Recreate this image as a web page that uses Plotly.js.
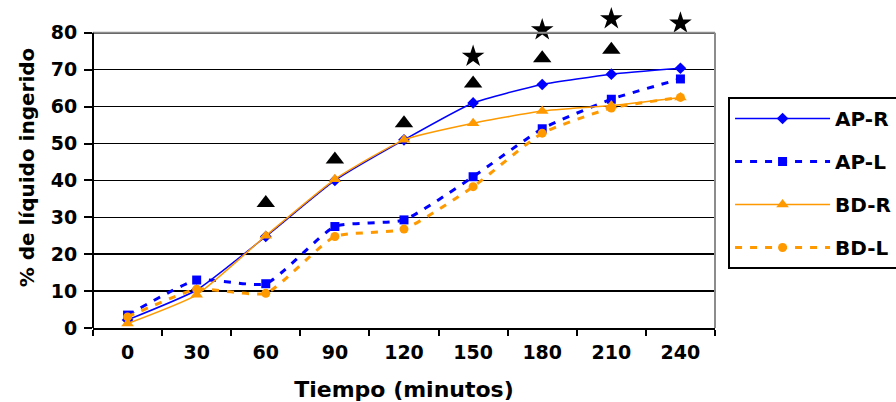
<!DOCTYPE html>
<html>
<head>
<meta charset="utf-8">
<script src="https://cdn.plot.ly/plotly-3.0.1.min.js"></script>
<style>html,body{margin:0;padding:0;background:#fff;}#chart{width:896px;height:402px;}</style>
</head>
<body>
<div id="chart"></div>
<script>
var categories = ['0','30','60','90','120','150','180','210','240'];
var apR = [2.2, 10.3, 24.8, 40, 51, 61, 66, 68.8, 70.4];
var apL = [3.5, 13, 12, 27.5, 29.3, 41, 54, 62, 67.5];
var bdR = [1.2, 9, 25, 40.3, 51, 55.5, 58.8, 60.3, 62.5];
var bdL = [3, 10.5, 9.4, 24.8, 26.8, 38.3, 52.8, 59.6, 62.5];
var triCats = ['60','90','120','150','180','210'];
var triVals = [33.9, 45.7, 55.5, 66.3, 73.1, 75.4];
var starCats = ['150','180','210','240'];
var starVals = [73.6, 80.8, 83.8, 82.6];
var arrowCat = '120';
var arrowHead = 7;
var seriesNames = ['AP-R','AP-L','BD-R','BD-L'];
var yTicks = [0,10,20,30,40,50,60,70,80];
var yMax = 80;

var BLUE = '#0000ff', ORANGE = '#ff9900';
var dashPat = '7px,8px';
var FONT = 'DejaVu Sans, Verdana, sans-serif';

var traces = [
  {x: categories, y: apR, name: seriesNames[0], legendgroup:'a', mode:'lines+markers', cliponaxis:false,
   line:{color:BLUE, width:1.5, shape:'spline', smoothing:0.5}, marker:{symbol:'diamond', size:9, color:BLUE}},
  {x: categories, y: apL, name: seriesNames[1], legendgroup:'b', mode:'lines+markers', cliponaxis:false,
   line:{color:BLUE, width:3, dash:dashPat, shape:'spline', smoothing:0.5}, marker:{symbol:'square', size:9, color:BLUE}},
  {x: categories, y: bdR, name: seriesNames[2], legendgroup:'c', mode:'lines+markers', cliponaxis:false,
   line:{color:ORANGE, width:1.5, shape:'spline', smoothing:0.5}, marker:{symbol:'triangle-up', size:11, color:ORANGE}},
  {x: categories, y: bdL, name: seriesNames[3], legendgroup:'d', mode:'lines+markers', cliponaxis:false,
   line:{color:ORANGE, width:3, dash:dashPat, shape:'spline', smoothing:0.5}, marker:{symbol:'circle', size:9, color:ORANGE}},
  {x: triCats, y: triVals, mode:'markers', showlegend:false, cliponaxis:false,
   marker:{symbol:'triangle-up', size:16, color:'#000'}},
  {x: starCats, y: starVals, mode:'markers', showlegend:false, cliponaxis:false,
   marker:{symbol:'star', size:17, color:'#000'}}
];

var layout = {
  width: 896, height: 402,
  paper_bgcolor:'#fff', plot_bgcolor:'#fff',
  margin:{l:93, r:181, t:7, b:74, autoexpand:false},
  font:{family:FONT, color:'#000', size:19, weight:'bold'},
  showlegend:true,
  legend:{x:1.021, xanchor:'left', y:0.7196, yanchor:'top', bordercolor:'#000', borderwidth:2,
    bgcolor:'#fff', font:{size:20, weight:'bold', family:FONT},
    itemwidth:95, traceorder:'grouped', tracegroupgap:14},
  xaxis:{type:'category', range:[-0.5,8.5], tickson:'boundaries', ticks:'outside', ticklen:6, tickwidth:2,
    tickcolor:'#000', showgrid:false, showline:true, linecolor:'#000', linewidth:2, zeroline:false,
    tickfont:{size:19, weight:'bold'}, ticklabelstandoff:6,
    title:{text:'Tiempo (minutos)', font:{size:22, weight:'bold'}, standoff:22}},
  yaxis:{range:[0,87], tickvals:yTicks, ticks:'outside', ticklen:8, tickwidth:2, tickcolor:'#000',
    showgrid:true, gridcolor:'#000', gridwidth:1.5, showline:false, ticklabelstandoff:3,
    zeroline:false, tickfont:{size:19, weight:'bold'},
    title:{text:'% de líquido ingerido', font:{size:20, weight:'bold'}, standoff:10}},
  shapes:[
    {type:'line', xref:'paper', yref:'y', x0:0, x1:1, y0:yMax, y1:yMax, line:{color:'#8c8c8c', width:2}, layer:'above'},
    {type:'line', xref:'paper', yref:'y', x0:1, x1:1, y0:0, y1:yMax, line:{color:'#8c8c8c', width:2}, layer:'above'},
    {type:'line', xref:'paper', yref:'y', x0:0, x1:0, y0:0, y1:yMax, line:{color:'#000', width:2}, layer:'above'}
  ],
  annotations:[
    {x: arrowCat, y: arrowHead, xref:'x', yref:'y', axref:'pixel', ayref:'pixel', ax:0, ay:40,
     showarrow:true, arrowhead:5, arrowsize:1.3, arrowwidth:2.2, arrowcolor:'#00ee00', text:''}
  ]
};

Plotly.newPlot('chart', traces, layout, {displayModeBar:false, staticPlot:true});
</script>
</body>
</html>
